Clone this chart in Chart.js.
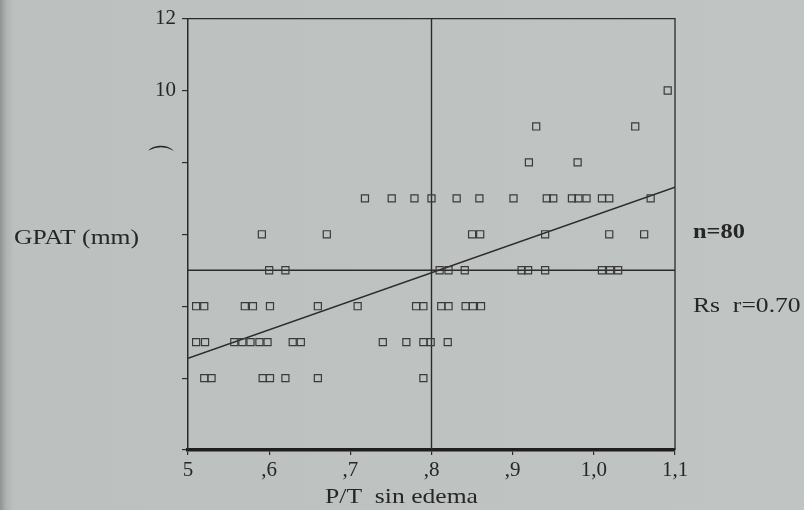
<!DOCTYPE html>
<html>
<head>
<meta charset="utf-8">
<script src="https://cdn.jsdelivr.net/npm/chart.js@4"></script>
<style>
    html, body { margin: 0; padding: 0; }
    body {
        width: 804px; height: 510px; overflow: hidden;
        background: linear-gradient(to right, #8f9493 0px, #aeb3b2 6px, #bcc1c0 14px, #c0c5c4 100%);
    }
    #wrap { position: relative; width: 804px; height: 510px; }
</style>
</head>
<body>
<div id="wrap"><canvas id="statsChart" width="804" height="510"></canvas></div>
<script>
// P/T sin edema (x) per GPAT level (y, mm)
const gpat2 = [0.52, 0.529, 0.592, 0.601, 0.62, 0.66, 0.79];
const gpat3 = [0.51, 0.521, 0.557, 0.567, 0.577, 0.588, 0.598, 0.629, 0.639, 0.74, 0.769, 0.79, 0.799, 0.82];
const gpat4 = [0.51, 0.52, 0.57, 0.58, 0.601, 0.66, 0.709, 0.781, 0.79, 0.812, 0.821, 0.842, 0.851, 0.861];
const gpat5 = [0.6, 0.62, 0.81, 0.821, 0.841, 0.911, 0.919, 0.94, 1.01, 1.02, 1.03];
const gpat6 = [0.591, 0.671, 0.85, 0.86, 0.94, 1.019, 1.062];
const gpat7 = [0.718, 0.751, 0.779, 0.8, 0.831, 0.859, 0.901, 0.942, 0.95, 0.973, 0.981, 0.991, 1.01, 1.019, 1.07];
const gpat8 = [0.92, 0.98];
const gpat9 = [0.929, 1.051];
const gpat10 = [1.091];

// recta de regresion y lineas de referencia
const fitX = [0.5, 1.1];
const fitY = [2.55, 7.31];
const refXval = 0.8;
const refYval = 5;

// ejes
const xTicks = [0.5, 0.6, 0.7, 0.8, 0.9, 1.0, 1.1];
const xTickLabels = ['5', ',6', ',7', ',8', ',9', '1,0', '1,1'];
const yTickLabels = { 12: '12', 10: '10', 8: '\u2312' };

const rows = { 2: gpat2, 3: gpat3, 4: gpat4, 5: gpat5, 6: gpat6, 7: gpat7, 8: gpat8, 9: gpat9, 10: gpat10 };
const points = [];
Object.keys(rows).forEach(y => {
    rows[y].forEach(x => points.push({ x: x, y: Number(y) }));
});

const ink = '#2b2b2b';
const serif = '"Liberation Serif", "DejaVu Serif", serif';

// texto algo ensanchado, como en el escaneo
function wideText(c, txt, x, y, align) {
    c.save();
    c.translate(x, y);
    c.scale(1.22, 1);
    c.textAlign = align;
    c.fillText(txt, 0, 0);
    c.restore();
}

// textos y marco
const extras = {
    id: 'extras',
    afterDraw(chart) {
        const c = chart.ctx;
        const a = chart.chartArea;
        c.save();
        c.strokeStyle = ink;
        c.lineWidth = 1.3;
        c.beginPath();
        c.moveTo(a.left, a.top);
        c.lineTo(a.right, a.top);
        c.lineTo(a.right, a.bottom);
        c.stroke();

        c.fillStyle = '#262626';
        c.textBaseline = 'middle';
        c.font = '21px ' + serif;
        wideText(c, 'GPAT (mm)', 14, 238, 'left');
        wideText(c, 'Rs  r=0.70', a.right + 18, 306, 'left');
        wideText(c, 'P/T  sin edema', (a.left + a.right) / 2 - 30, 497, 'center');
        c.font = 'bold 20px ' + serif;
        wideText(c, 'n=80', a.right + 18, 233, 'left');
        c.restore();
    }
};

new Chart(document.getElementById('statsChart'), {
    type: 'scatter',
    data: {
        datasets: [
            {
                data: points,
                pointStyle: 'rect',
                pointRadius: 5,
                borderColor: '#3a3a3a',
                borderWidth: 1.2,
                backgroundColor: 'rgba(0,0,0,0)',
                order: 1
            },
            {
                type: 'line',
                data: fitX.map((x, i) => ({ x: x, y: fitY[i] })),
                borderColor: ink, borderWidth: 1.6, pointRadius: 0, fill: false, order: 2
            },
            {
                type: 'line',
                data: [{ x: refXval, y: 0 }, { x: refXval, y: 12 }],
                borderColor: ink, borderWidth: 1.4, pointRadius: 0, fill: false, order: 3
            },
            {
                type: 'line',
                data: [{ x: 0.5, y: refYval }, { x: 1.1, y: refYval }],
                borderColor: ink, borderWidth: 1.4, pointRadius: 0, fill: false, order: 4
            }
        ]
    },
    options: {
        responsive: false,
        animation: false,
        layout: { padding: { left: 148, right: 129, top: 17, bottom: 0 } },
        plugins: { legend: { display: false }, tooltip: { enabled: false } },
        scales: {
            x: {
                type: 'linear', min: 0.5, max: 1.1,
                afterBuildTicks: s => { s.ticks = xTicks.map(v => ({ value: v })); },
                afterFit: s => { s.height = 60; },
                ticks: {
                    color: '#262626', padding: 3,
                    font: { family: serif, size: 21 },
                    maxRotation: 0,
                    callback: v => xTickLabels[xTicks.findIndex(t => Math.abs(t - v) < 1e-6)]
                },
                grid: { drawOnChartArea: false, drawTicks: true, tickLength: 5, color: ink, lineWidth: 1.2 },
                border: { display: true, color: '#1e1e1e', width: 3.5 }
            },
            y: {
                min: 0, max: 12,
                afterFit: s => { s.width = 40; },
                ticks: {
                    stepSize: 2, color: '#262626', padding: 6,
                    font: ctx => ({ family: serif, size: ctx.tick && ctx.tick.value === 8 ? 30 : 21 }),
                    callback: v => yTickLabels[v] || ''
                },
                grid: { drawOnChartArea: false, drawTicks: true, tickLength: 6, color: ink, lineWidth: 1.2 },
                border: { display: true, color: ink, width: 1.5 }
            }
        }
    },
    plugins: [extras]
});
</script>
</body>
</html>
